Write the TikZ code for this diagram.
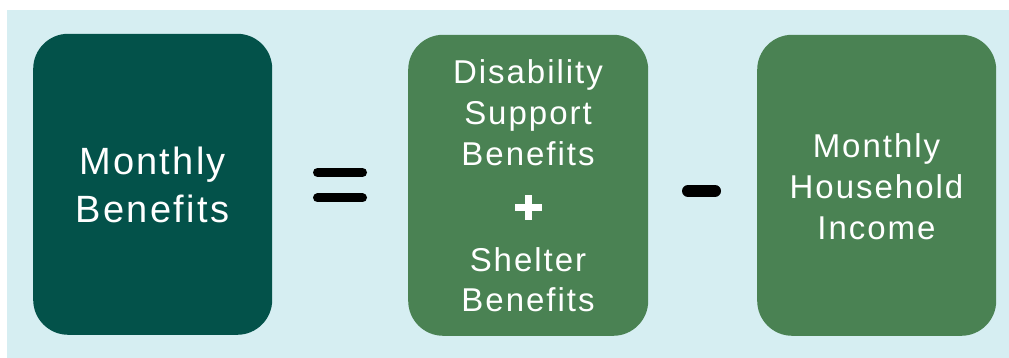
\documentclass[tikz,border=0pt]{standalone}
\usepackage{fontspec}
\newfontfamily\boxfont[LetterSpace=6]{Liberation Sans}
\definecolor{bg}{HTML}{D6EEF2}
\definecolor{darkgreen}{HTML}{03524A}
\definecolor{midgreen}{HTML}{4A8253}
\begin{document}
\begin{tikzpicture}[x=1pt,y=1pt,
  box/.style={draw=none, rounded corners=35pt, minimum width=239pt, minimum height=301pt, inner sep=0pt, anchor=south west},
  lbl/.style={text=white, anchor=base, inner sep=0pt, font=\boxfont\fontsize{33}{40}\selectfont},
  biglbl/.style={lbl, font=\boxfont\fontsize{38}{44}\selectfont},
  opbar/.style={line width=9pt, line cap=round, black},
  plusbar/.style={line width=7.5pt, white}]
\useasboundingbox (0,0) rectangle (1009,358);
\fill[bg] (7,0) rectangle (1009,348);
% boxes
\node[box, fill=darkgreen] (b1) at (33,23) {};
\node[box, fill=midgreen, minimum width=240pt] (b2) at (408,22) {};
\node[box, fill=midgreen] (b3) at (757,22) {};
% box 1 text
\node[biglbl] (t11) at (152.5,183) {Monthly};
\node[biglbl] (t12) at (152.5,135) {Benefits};
% box 2 text
\node[lbl] (t21) at (528,274) {Disability};
\node[lbl] (t22) at (528,233) {Support};
\node[lbl] (t23) at (528,192) {Benefits};
\node[lbl] (t24) at (528,86.5) {Shelter};
\node[lbl] (t25) at (528,46.5) {Benefits};
% box 3 text
\node[lbl] (t31) at (876.5,200) {Monthly};
\node[lbl] (t32) at (876.5,159) {Household};
\node[lbl] (t33) at (876.5,118) {Income};
% plus sign
\coordinate (pc) at (528.5,150.5);
\draw[plusbar] ([xshift=-13.5pt]pc) -- ([xshift=13.5pt]pc);
\draw[plusbar] ([yshift=-12.5pt]pc) -- ([yshift=12.5pt]pc);
% equals sign
\coordinate (e1a) at (317.5,185.5);
\coordinate (e1b) at (362.5,185.5);
\coordinate (e2a) at (317.5,160);
\coordinate (e2b) at (362.5,160);
\draw[opbar] (e1a) -- (e1b);
\draw[opbar] (e2a) -- (e2b);
% minus sign
\coordinate (m1) at (688,167);
\coordinate (m2) at (715,167);
\draw[opbar, line width=12pt] (m1) -- (m2);
\end{tikzpicture}
\end{document}
